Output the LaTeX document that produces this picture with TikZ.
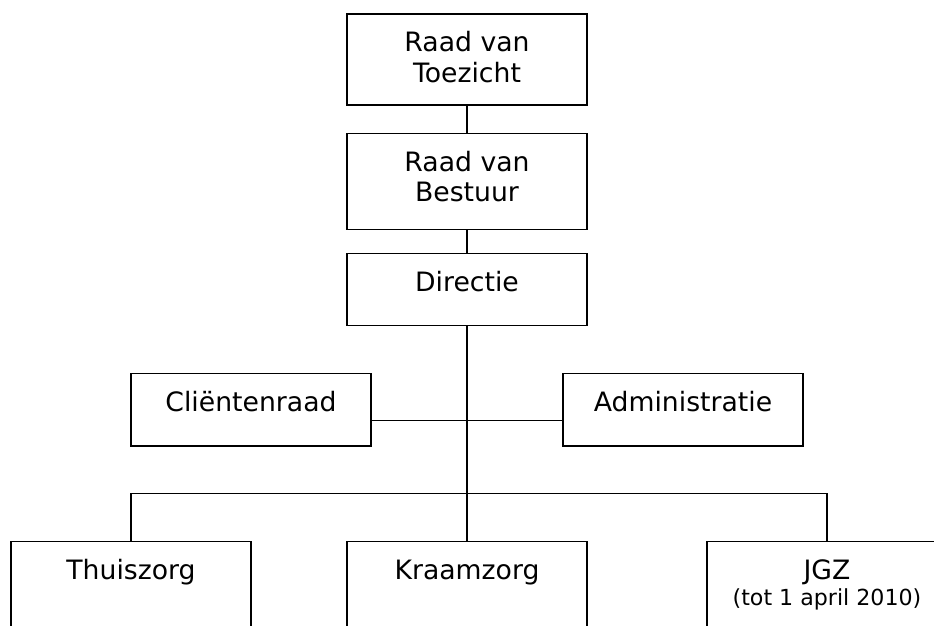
\documentclass[tikz,border=0pt]{standalone}
\usepackage{fontspec}
\setmainfont{DejaVu Sans}
\usepackage{tikz}

\begin{document}
\begin{tikzpicture}[x=0.75pt,y=-0.75pt,line width=1pt,
  every node/.append style={font=\fontsize{20}{23}\selectfont},
  toptext/.style={text height=28.3pt,text depth=#1}]
  \tikzstyle{unit} = [draw,minimum width=180pt,inner sep=0pt,anchor=north]
  \tikzstyle{note} = [font=\fontsize{16.6}{19}\selectfont,anchor=base]
  \useasboundingbox (0,0) rectangle (934,625);
  \clip (0,0) rectangle (934,625);
  % top chain
  \node (toezicht) [unit,toptext=40pt] at (467,13.3)
    {\begin{tabular}[t]{@{}c@{}}Raad van\\Toezicht\end{tabular}};
  \node (bestuur) [unit,toptext=43.7pt] at (467,132.7)
    {\begin{tabular}[t]{@{}c@{}}Raad van\\Bestuur\end{tabular}};
  \node (directie) [unit,toptext=25.9pt] at (467,252.7) {Directie};
  % staff
  \node (clientenraad) [unit,toptext=26.2pt] at (251,372.7) {Cliëntenraad};
  \node (administratie) [unit,toptext=26.2pt] at (683,372.7) {Administratie};
  % departments
  \node (thuiszorg) [unit,toptext=61.7pt] at (131,541) {Thuiszorg};
  \node (kraamzorg) [unit,toptext=61.7pt] at (467,541) {Kraamzorg};
  \node (jgz) [unit,toptext=61.7pt] at (827,541) {JGZ};
  \node (jgznote) [note] at (827,605) {(tot 1 april 2010)};
  \coordinate (staff) at (467,420.7);
  \coordinate (bus) at (467,493.3);
  \draw (toezicht) -- (bestuur);
  \draw (bestuur) -- (directie);
  \draw (directie) -- (kraamzorg);
  \draw (clientenraad.east |- staff) -- (administratie.west |- staff);
  \draw (thuiszorg.north) |- (bus) -| (jgz.north);
\end{tikzpicture}
\end{document}
